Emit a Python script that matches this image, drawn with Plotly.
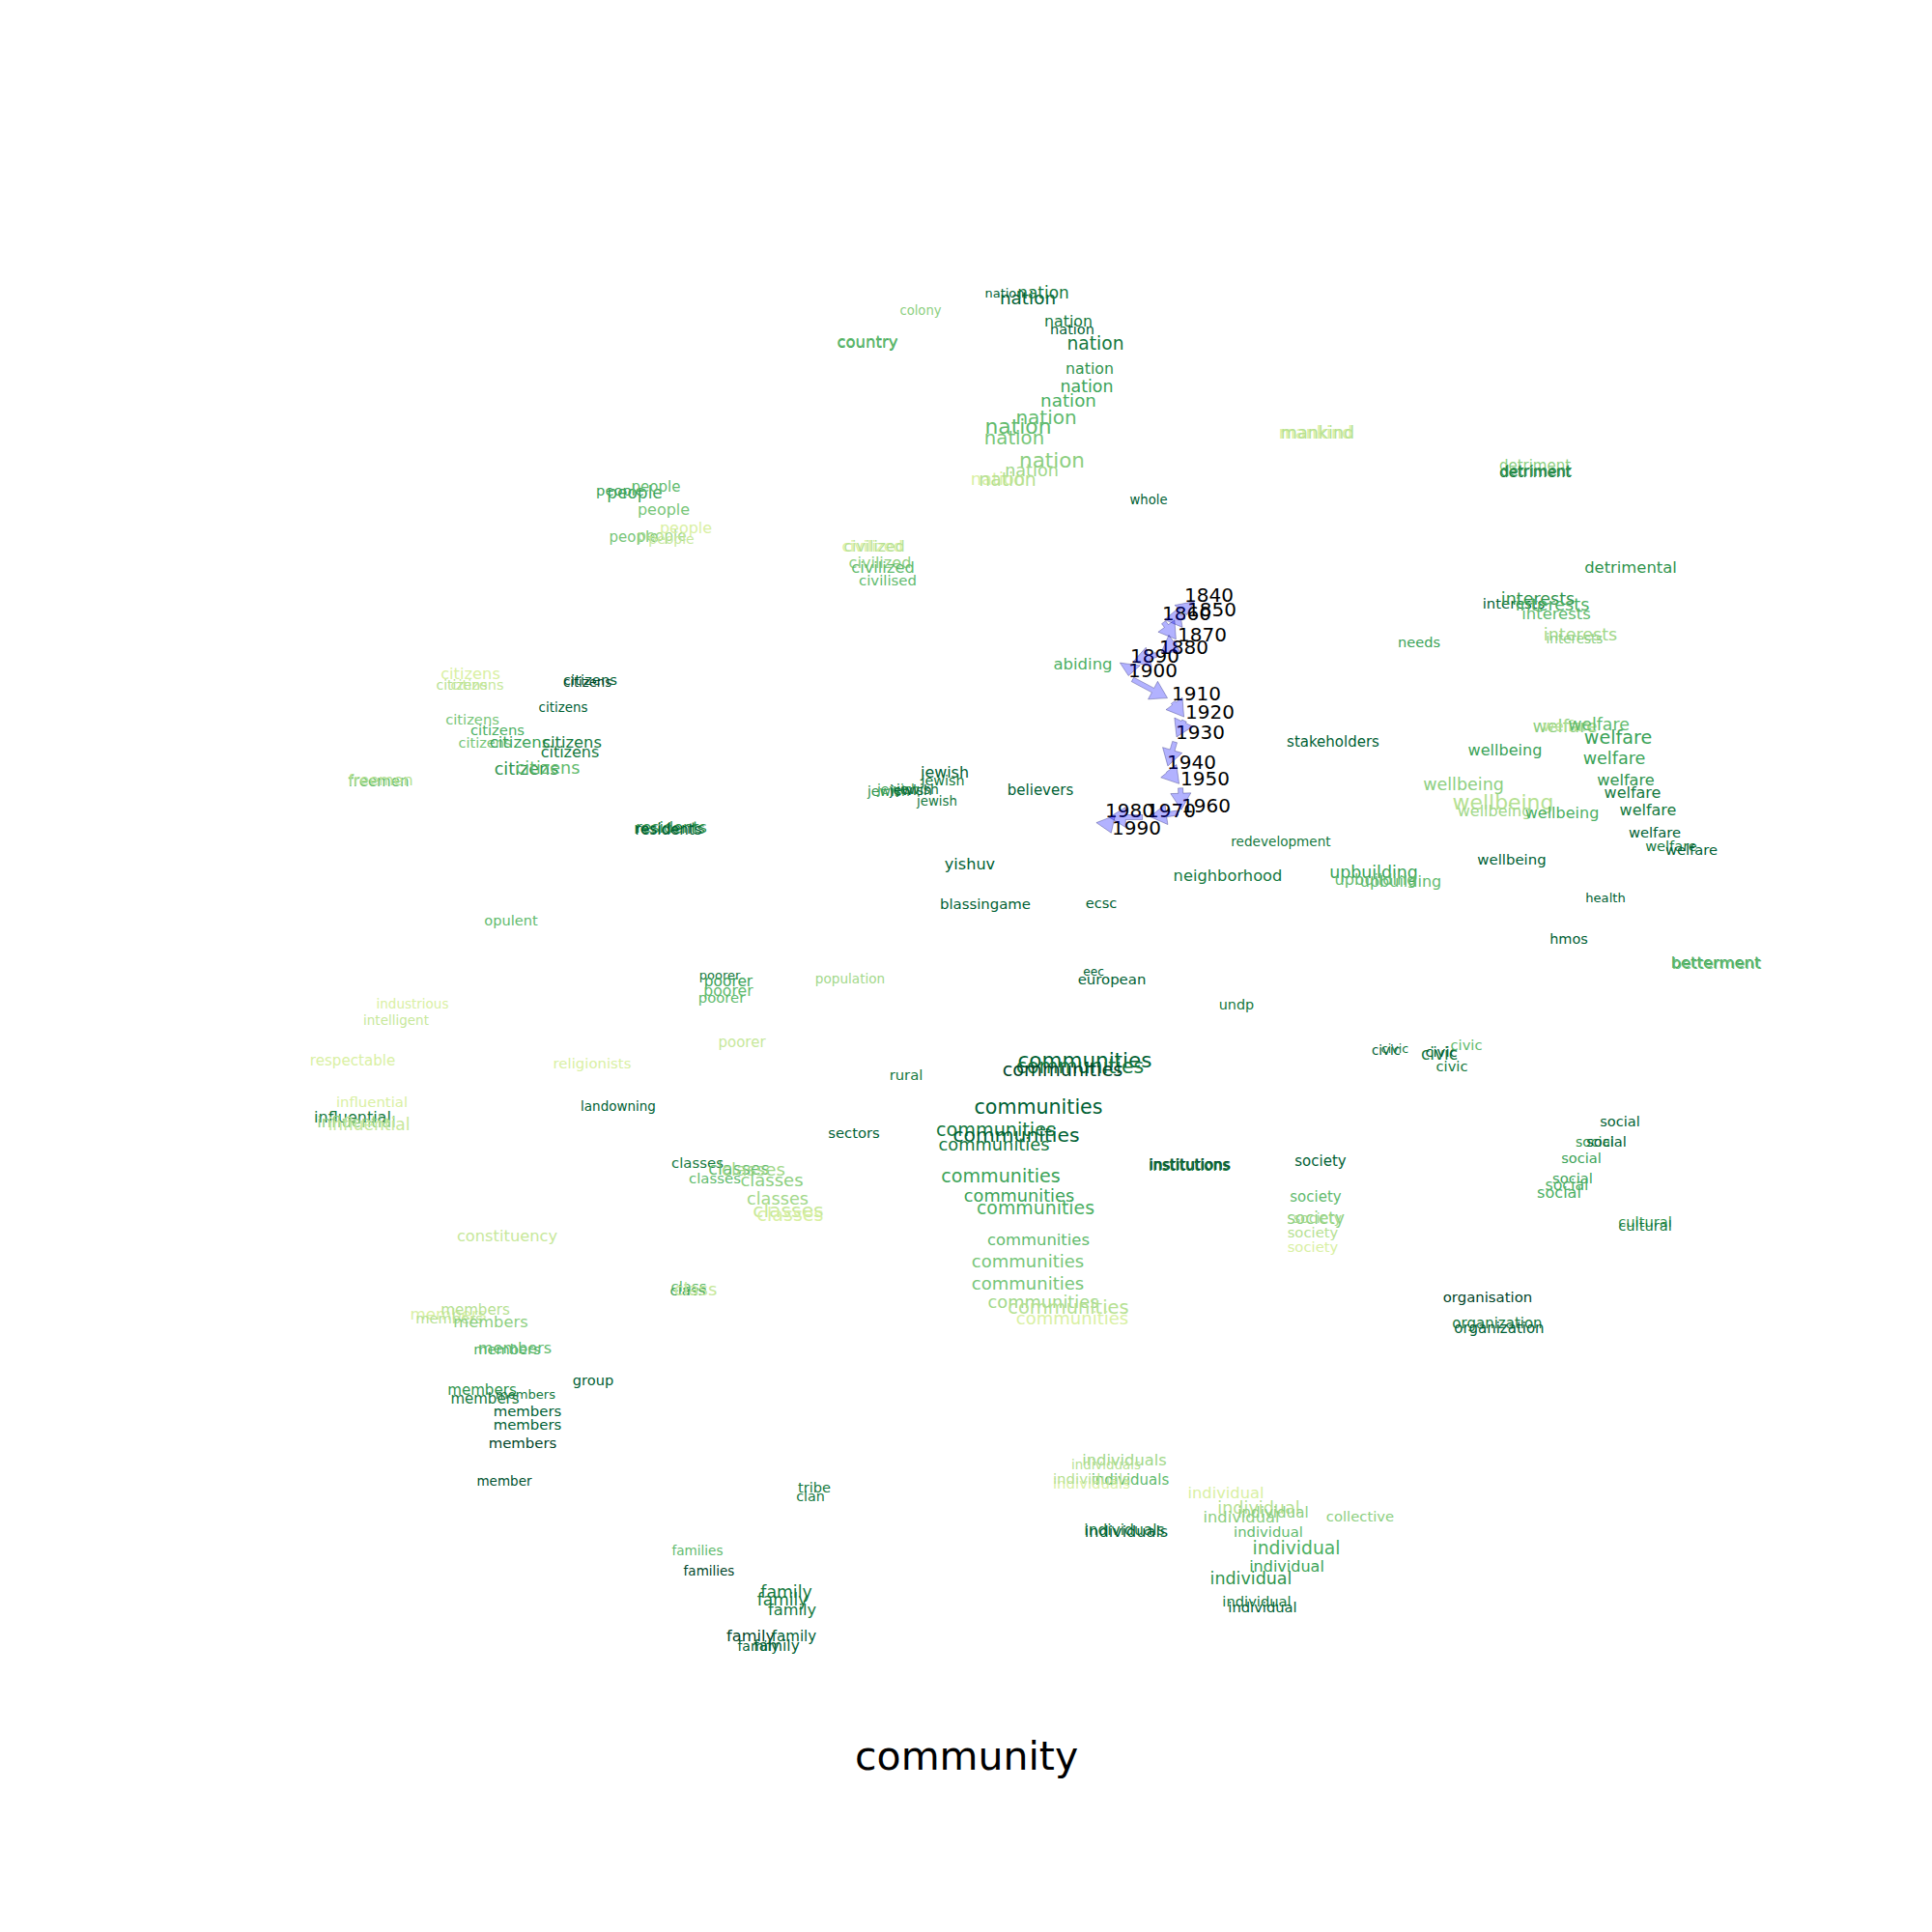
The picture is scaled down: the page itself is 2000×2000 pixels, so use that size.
import math
import plotly.graph_objects as go
from plotly.colors import sample_colorscale

# ---------------- data ----------------
words = (["people"] * 8
         + ["citizens"] * 14
         + ["freemen"] * 2 + ["residents"] * 3
         + ["opulent", "industrious", "intelligent", "respectable", "religionists"]
         + ["influential"] * 4 + ["landowning"]
         + ["jewish"] * 7 + ["believers", "yishuv", "blassingame"]
         + ["poorer"] * 4 + ["population", "poorer", "rural"]
         + ["communities"] * 16
         + ["classes"] * 8 + ["sectors"]
         + ["nation"] * 16
         + ["colony"] + ["country"] * 2 + ["civilized"] * 4 + ["civilised", "abiding"]
         + ["mankind"] * 2 + ["whole", "needs", "stakeholders"]
         + ["detriment"] * 3 + ["detrimental"] + ["interests"] * 6
         + ["welfare"] * 11
         + ["wellbeing"] * 6 + ["health", "hmos"] + ["betterment"] * 2
         + ["civic"] * 6 + ["social"] * 7 + ["cultural"] * 2
         + ["redevelopment", "neighborhood"] + ["upbuilding"] * 3
         + ["ecsc", "eec", "european", "undp"] + ["institutions"] * 3
         + ["society"] * 6 + ["organisation"] + ["organization"] * 2
         + ["individuals"] * 7
         + ["individual"] * 4 + ["collective"] + ["individual"] * 6
         + ["constituency"] + ["class"] * 3
         + ["members"] * 12 + ["member", "group"]
         + ["families"] * 2 + ["tribe", "clan"] + ["family"] * 7)

word_x = ([642, 657, 679, 687, 656, 685, 695, 710]
          + [487, 478, 494, 611, 608, 583, 489, 515, 502, 538, 592, 590, 545, 567]
          + [392, 394, 693, 695, 692]
          + [529, 427, 410, 365, 613, 385, 365, 369, 382, 640]
          + [978, 976, 920, 930, 943, 950, 970, 1077, 1004, 1020]
          + [745, 754, 754, 747, 880, 768, 938]
          + [1123, 1118, 1100, 1075, 1031, 1052, 1029, 1036, 1055, 1072, 1075, 1064, 1064, 1080, 1106, 1110]
          + [722, 765, 780, 740, 799, 805, 816, 818, 884]
          + [1040, 1064, 1080, 1106, 1110, 1134, 1128, 1125, 1106, 1083, 1054, 1050, 1089, 1068, 1033, 1043]
          + [953, 898, 898, 903, 905, 911, 914, 919, 1121]
          + [1362, 1364, 1189, 1469, 1380]
          + [1589, 1589, 1590, 1688, 1567, 1592, 1607, 1611, 1636, 1630]
          + [1620, 1625, 1655, 1675, 1671, 1683, 1690, 1706, 1713, 1730, 1751]
          + [1558, 1515, 1556, 1547, 1617, 1565, 1662, 1624, 1776, 1777]
          + [1435, 1444, 1490, 1492, 1518, 1503, 1677, 1651, 1663, 1637, 1628, 1622, 1614, 1703, 1703]
          + [1326, 1271, 1422, 1424, 1450, 1140, 1132, 1151, 1280, 1231, 1232, 1231]
          + [1367, 1362, 1362, 1364, 1359, 1359, 1540, 1550, 1552]
          + [1164, 1145, 1170, 1130, 1130, 1164, 1166]
          + [1269, 1303, 1285, 1318, 1408, 1313, 1342, 1332, 1295, 1301, 1307]
          + [525, 713, 712, 720]
          + [464, 492, 465, 508, 525, 533, 499, 502, 544, 546, 546, 541, 522, 614]
          + [722, 734, 843, 839, 814, 810, 820, 777, 822, 785, 804])

word_y = ([509, 512, 505, 529, 557, 556, 559, 548]
          + [699, 710, 710, 705, 708, 734, 746, 757, 770, 770, 770, 780, 798, 797]
          + [810, 809, 859, 858, 860]
          + [954, 1041, 1058, 1099, 1102, 1142, 1158, 1163, 1166, 1147]
          + [801, 809, 820, 818, 819, 818, 831, 819, 896, 937]
          + [1011, 1017, 1027, 1034, 1015, 1080, 1114]
          + [1100, 1106, 1109, 1148, 1171, 1177, 1187, 1219, 1240, 1252, 1285, 1307, 1330, 1350, 1355, 1366]
          + [1205, 1212, 1212, 1221, 1223, 1243, 1255, 1259, 1174]
          + [305, 310, 305, 334, 342, 357, 383, 402, 416, 434, 444, 455, 479, 489, 498, 498]
          + [323, 356, 355, 567, 567, 584, 589, 602, 689]
          + [450, 450, 519, 666, 769]
          + [483, 490, 489, 589, 626, 622, 628, 637, 659, 663]
          + [753, 753, 752, 765, 787, 809, 822, 840, 863, 877, 881]
          + [778, 814, 833, 841, 843, 891, 931, 973, 998, 999]
          + [1089, 1087, 1093, 1090, 1083, 1105, 1162, 1183, 1183, 1200, 1221, 1228, 1236, 1266, 1270]
          + [873, 908, 905, 912, 914, 936, 1007, 1015, 1041, 1207, 1207, 1208]
          + [1203, 1240, 1263, 1262, 1277, 1292, 1344, 1371, 1376]
          + [1513, 1518, 1533, 1537, 1532, 1585, 1587]
          + [1547, 1563, 1572, 1567, 1571, 1587, 1604, 1623, 1636, 1659, 1665]
          + [1281, 1333, 1337, 1336]
          + [1362, 1357, 1366, 1370, 1398, 1397, 1440, 1449, 1445, 1462, 1476, 1495, 1535, 1430]
          + [1607, 1628, 1541, 1550, 1650, 1658, 1668, 1695, 1695, 1705, 1705])

word_decade = ([1920, 1920, 1900, 1890, 1890, 1870, 1850, 1840]
               + [1840, 1860, 1850, 1970, 1990, 1970, 1890, 1910, 1890, 1920, 1950, 1950, 1930, 1900]
               + [1900, 1860, 1950, 1930, 1970]
               + [1900, 1840, 1850, 1840, 1840, 1840, 1950, 1880, 1850, 1970]
               + [1970, 1950, 1930, 1920, 1970, 1950, 1950, 1970, 1970, 1970]
               + [1950, 1920, 1900, 1900, 1870, 1850, 1950]
               + [1970, 1950, 1990, 1970, 1950, 1970, 1950, 1920, 1920, 1910, 1900, 1890, 1890, 1870, 1860, 1840]
               + [1950, 1900, 1870, 1900, 1880, 1870, 1850, 1840, 1970]
               + [1970, 1970, 1950, 1950, 1970, 1950, 1930, 1920, 1910, 1900, 1900, 1890, 1880, 1870, 1840, 1860]
               + [1880, 1920, 1900, 1840, 1860, 1880, 1900, 1900, 1910]
               + [1840, 1860, 1970, 1920, 1970]
               + [1880, 1950, 1930, 1930, 1970, 1930, 1910, 1900, 1870, 1880]
               + [1880, 1860, 1900, 1920, 1920, 1930, 1950, 1950, 1970, 1950, 1970]
               + [1920, 1880, 1860, 1870, 1910, 1970, 1970, 1970, 1920, 1900]
               + [1970, 1950, 1950, 1970, 1900, 1950, 1970, 1930, 1970, 1920, 1920, 1910, 1910, 1930, 1950]
               + [1950, 1950, 1920, 1900, 1900, 1970, 1970, 1970, 1950, 1970, 1990, 1950]
               + [1970, 1900, 1880, 1870, 1860, 1840, 1990, 1950, 1970]
               + [1870, 1860, 1900, 1840, 1860, 1950, 1970]
               + [1840, 1860, 1880, 1880, 1880, 1900, 1910, 1920, 1930, 1950, 1970]
               + [1850, 1900, 1920, 1850]
               + [1840, 1860, 1860, 1880, 1910, 1900, 1930, 1950, 1950, 1970, 1970, 1990, 1980, 1970]
               + [1900, 1990, 1950, 1950, 1950, 1950, 1950, 1990, 1970, 1970, 1970])

word_size = ([14.7, 17, 15, 16, 15, 15, 14, 16]
             + [16.3, 14, 14.5, 14.8, 13.2, 13.4, 14.7, 14.8, 14.5, 16.5, 16.3, 16, 17.6, 17.6]
             + [15, 16, 16, 16, 15]
             + [14.6, 13.5, 13.5, 15.1, 14.9, 14.9, 16, 16.4, 17, 13.5]
             + [15.9, 14.3, 14, 14, 14, 14, 13.3, 15, 16.1, 14.9]
             + [13, 15.4, 15.7, 14.8, 13.6, 15, 14.8]
             + [21.5, 20.5, 19.3, 20.6, 19.2, 20.3, 17.8, 19.1, 17.7, 18.9, 16.4, 18, 18, 17.8, 19.4, 18]
             + [14.9, 17.5, 18.2, 14.9, 18, 17.7, 20.3, 19, 14.8]
             + [12.9, 18.4, 16.9, 15.8, 14.5, 18.7, 15.8, 17.4, 18.3, 20, 21.8, 19.7, 21.5, 17.6, 17.9, 18.8]
             + [13.2, 16.5, 16.5, 15.7, 15.7, 16.1, 16.3, 14.9, 16.5]
             + [17.6, 17.6, 13.2, 14.6, 15]
             + [15, 15, 15, 16.4, 14.8, 17.5, 17.6, 16.4, 17.5, 13.5]
             + [18.2, 15.3, 17.3, 19.1, 17.6, 16.2, 16, 16, 14.7, 14.6, 14.7]
             + [16.1, 17.5, 21.9, 16, 16, 14.9, 13.1, 14.5, 16.4, 16.4]
             + [13.3, 12.6, 17, 14.8, 14.7, 14.7, 14.6, 14, 14.6, 14.6, 14.7, 15.8, 16.1, 14.7, 14.7]
             + [13.6, 16.3, 17.4, 16.1, 16, 14.6, 12.2, 14.9, 14.4, 15.1, 15.1, 15.1]
             + [15, 15, 16.8, 14, 14.8, 14.8, 14.9, 15, 15]
             + [16.3, 13.4, 15, 14.9, 14.9, 15.5, 16.1]
             + [16.3, 17.6, 16.3, 15.1, 14.8, 14.8, 18.8, 16, 17.5, 14.7, 14.7]
             + [16.3, 14.9, 14.9, 18]
             + [16.7, 15.1, 14.7, 16.3, 14.6, 16.1, 15.1, 15, 13.1, 14.9, 14.9, 14.9, 13.5, 14.6]
             + [13.6, 13.5, 14.6, 14.3, 17.3, 17, 16.2, 16.2, 15, 14, 15.4])

decades = [1840, 1850, 1860, 1870, 1880, 1890, 1900, 1910,
           1920, 1930, 1940, 1950, 1960, 1970, 1980, 1990]
decade_x = [1226, 1229, 1203, 1219, 1200, 1170, 1168, 1213,
            1227, 1217, 1208, 1222, 1223, 1187, 1144, 1151]
decade_y = [623, 638, 642, 664, 677, 686, 701, 725,
            744, 765, 796, 813, 841, 846, 846, 864]

title_text = "community"

n = len(words)
assert n == len(word_x) == len(word_y) == len(word_decade) == len(word_size), (
    n, len(word_x), len(word_y), len(word_decade), len(word_size))


def decade_color(d):
    t = 0.25 + 0.75 * (d - 1840) / 150.0
    return sample_colorscale("YlGn", [min(max(t, 0), 1)])[0]


word_colors = [decade_color(d) for d in word_decade]

fig = go.Figure()

fig.add_trace(go.Scatter(
    x=word_x, y=word_y, mode="text", text=words,
    textposition="middle center",
    textfont=dict(family="DejaVu Sans", size=word_size, color=word_colors),
    hoverinfo="skip", showlegend=False))

# decade labels: anchored at left/baseline of each decade point
LABEL_DROP = 5
fig.add_trace(go.Scatter(
    x=decade_x, y=[v + LABEL_DROP for v in decade_y], mode="text",
    text=[str(d) for d in decades],
    textposition="top right",
    textfont=dict(family="DejaVu Sans", size=20, color="black"),
    hoverinfo="skip", showlegend=False))

# arrows between consecutive decades (matplotlib-like fancy arrows)
SHRINK = 0.1
TAIL_W = 5.0
HEAD_W = 21.0
HEAD_L = 17.0
for i in range(len(decades) - 1):
    x0, y0 = decade_x[i], decade_y[i]
    x1, y1 = decade_x[i + 1], decade_y[i + 1]
    dx, dy = x1 - x0, y1 - y0
    L = math.hypot(dx, dy)
    if L == 0:
        continue
    ux, uy = dx / L, dy / L
    nx, ny = -uy, ux
    sx, sy = x0 + ux * SHRINK * L, y0 + uy * SHRINK * L
    ex, ey = x1 - ux * SHRINK * L, y1 - uy * SHRINK * L
    eff = (1 - 2 * SHRINK) * L
    hl = min(HEAD_L, eff) if eff > 0 else HEAD_L
    bx, by = ex - ux * hl, ey - uy * hl
    pts = [
        (sx + nx * TAIL_W / 2, sy + ny * TAIL_W / 2),
        (bx + nx * TAIL_W / 2, by + ny * TAIL_W / 2),
        (bx + nx * HEAD_W / 2, by + ny * HEAD_W / 2),
        (ex, ey),
        (bx - nx * HEAD_W / 2, by - ny * HEAD_W / 2),
        (bx - nx * TAIL_W / 2, by - ny * TAIL_W / 2),
        (sx - nx * TAIL_W / 2, sy - ny * TAIL_W / 2),
    ]
    pts.append(pts[0])
    fig.add_trace(go.Scatter(
        x=[p[0] for p in pts], y=[p[1] for p in pts],
        mode="lines", fill="toself",
        fillcolor="rgba(0,0,255,0.3)",
        line=dict(color="rgba(0,0,90,0.3)", width=1),
        hoverinfo="skip", showlegend=False))

fig.update_layout(
    width=2000, height=2000,
    margin=dict(l=0, r=0, t=0, b=0),
    paper_bgcolor="white", plot_bgcolor="white",
    xaxis=dict(range=[0, 2000], visible=False, fixedrange=True),
    yaxis=dict(range=[2000, 0], visible=False, fixedrange=True),
    annotations=[dict(
        text=title_text, x=0.5, y=1 - 1818 / 2000, xref="paper", yref="paper",
        xanchor="center", yanchor="middle", showarrow=False,
        font=dict(family="DejaVu Sans", size=41, color="black"))],
)

fig.write_html("out.html")
